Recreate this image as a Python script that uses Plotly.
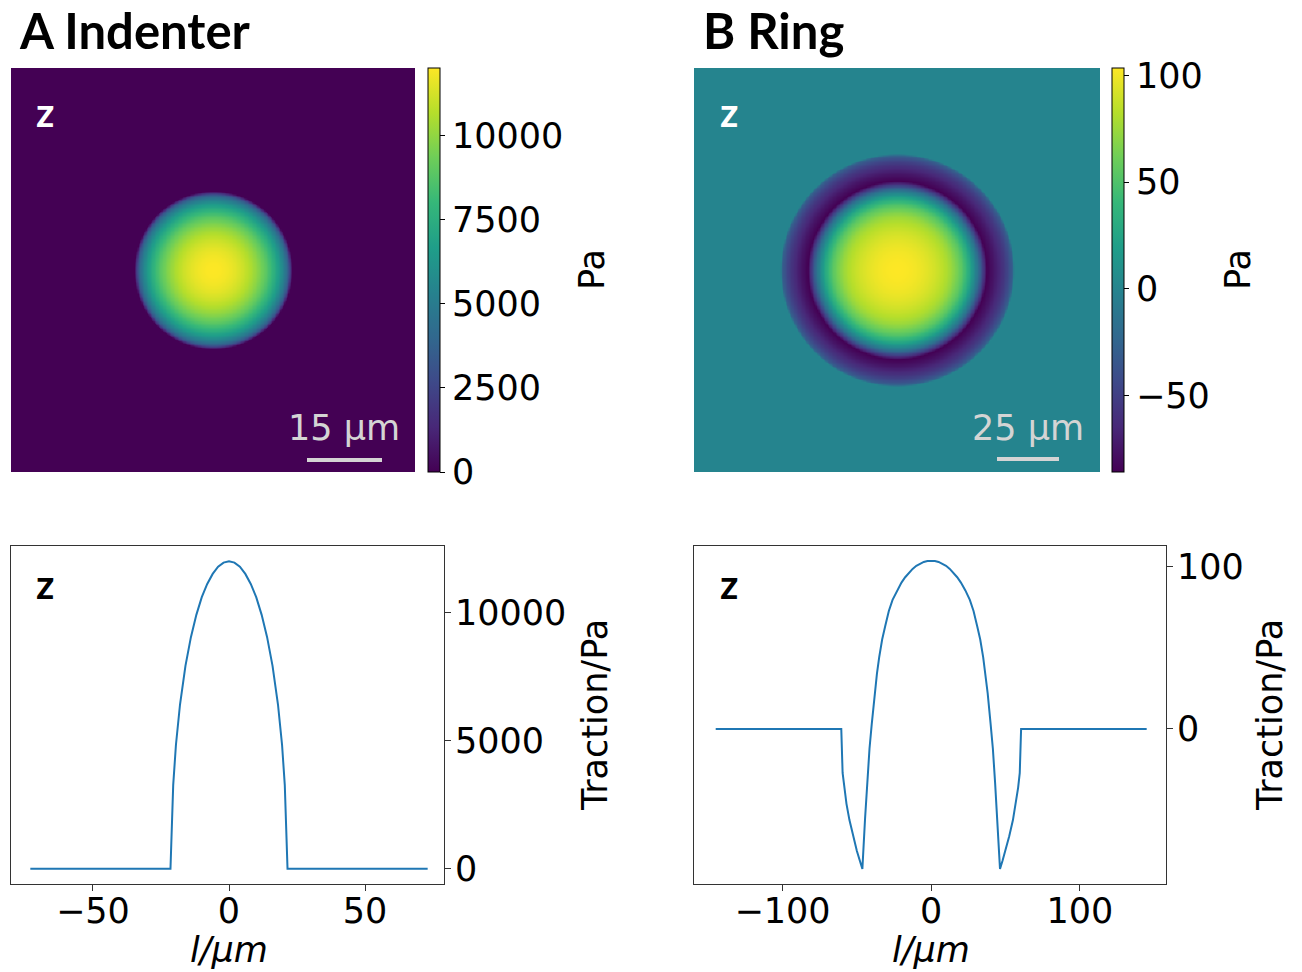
import numpy as np
import plotly.graph_objects as go

W, H = 1302, 972

# ---------------- data ----------------
# Panel A: indenter traction profile along a line through the centre
l_A = [-73, -21.5, -20.5, -19.5, -18, -16, -14, -12, -10, -8, -6, -4, -2, 0,
       2, 4, 6, 8, 10, 12, 14, 16, 18, 19.5, 20.5, 21.5, 73]
t_A = [0, 0, 3260, 4830, 6410, 7920, 9040, 9910, 10600, 11120, 11510, 11790, 11950, 12000,
       11950, 11790, 11510, 11120, 10600, 9910, 9040, 7920, 6410, 4830, 3260, 0, 0]

# Panel B: ring traction profile along a line through the centre
l_B = [-145, -60.5, -59.6, -58.5, -57, -55, -52.5, -50, -48, -46.3, -44.5, -43, -41.5, -40, -38,
       -36.5, -35, -33, -31, -28.5, -26, -23, -20, -17.5, -15, -12.5, -10, -7.5, -5, -2.5, 0,
       2.5, 5, 7.5, 10, 12.5, 15, 17.5, 20, 23, 26, 28.5, 31, 33, 35, 36.5,
       38, 40, 41.5, 43, 44.5, 46.3, 48, 50, 52.5, 55, 57, 58.5, 59.6, 60.5, 145]
t_B = [0, 0, -27, -36, -46, -56, -66, -75, -81, -86, -55, -33, -12, 3, 22,
       34, 44, 55, 63, 72.5, 79.4, 85.2, 90, 93.3, 96.1, 98.4, 100.3, 101.7, 102.7, 103.3, 103.5,
       103.3, 102.7, 101.7, 100.3, 98.4, 96.1, 93.3, 90, 85.2, 79.4, 72.5, 63, 55, 44, 34,
       22, 3, -12, -33, -55, -86, -81, -75, -66, -56, -46, -36, -27, 0, 0]

ticks_cbA = [0, 2500, 5000, 7500, 10000]
ticks_cbB = [-50, 0, 50, 100]
ticks_xA = [-50, 0, 50]
ticks_xB = [-100, 0, 100]
ticks_yA = [0, 5000, 10000]
ticks_yB = [0, 100]

def lab(v):
    return str(v).replace('-', '\u2212')

# heatmaps built from the radial (l >= 0) part of each profile
def radial_map(l, t, half, n=301):
    l = np.asarray(l, float); t = np.asarray(t, float)
    m = l >= 0
    r, v = l[m], t[m]
    xs = np.linspace(-half, half, n)
    X, Y = np.meshgrid(xs, xs)
    R = np.sqrt(X ** 2 + Y ** 2)
    return xs, np.round(np.interp(R, r, v), 1)

xsA, zA = radial_map(l_A, t_A, 54.9)
xsB, zB = radial_map(l_B, t_B, 105.0)

# ---------------- geometry helpers ----------------
def px_x(x0, x1):
    return [x0 / W, x1 / W]

def px_y(y0, y1):
    return [1 - y1 / H, 1 - y0 / H]

TICKFONT = dict(family="DejaVu Sans", size=35, color="black")
BOLD = "Lato"

def cbar(x):
    return dict(x=x / W, xanchor="left", y=1 - 270 / H, yanchor="middle",
                len=404, lenmode="pixels", thickness=12, thicknessmode="pixels",
                xpad=0, ypad=0, outlinewidth=1, outlinecolor="black",
                ticks="outside", ticklen=5, tickcolor="black", tickfont=TICKFONT)

fig = go.Figure()

cbA = cbar(428); cbA.update(tickvals=ticks_cbA, ticktext=[lab(v) for v in ticks_cbA])
cbB = cbar(1112); cbB.update(tickvals=ticks_cbB, ticktext=[lab(v) for v in ticks_cbB])

fig.add_trace(go.Heatmap(
    x=xsA, y=xsA, z=zA, colorscale="Viridis", zmin=0, zmax=max(t_A),
    xaxis="x", yaxis="y", zsmooth="best", hoverinfo="skip", colorbar=cbA))
fig.add_trace(go.Heatmap(
    x=xsB, y=xsB, z=zB, colorscale="Viridis", zmin=min(t_B), zmax=max(t_B),
    xaxis="x2", yaxis="y2", zsmooth="best", hoverinfo="skip", colorbar=cbB))
fig.add_trace(go.Scatter(x=l_A, y=t_A, mode="lines", line=dict(color="#1f77b4", width=2),
                         xaxis="x3", yaxis="y3", hoverinfo="skip", showlegend=False))
fig.add_trace(go.Scatter(x=l_B, y=t_B, mode="lines", line=dict(color="#1f77b4", width=2),
                         xaxis="x4", yaxis="y4", hoverinfo="skip", showlegend=False))

hid = dict(visible=False, showgrid=False, zeroline=False, automargin=False)
frame = dict(showline=True, mirror=True, linecolor="#333333", linewidth=1,
             showgrid=False, zeroline=False, ticks="outside", ticklen=6,
             tickcolor="#333333", tickfont=TICKFONT, automargin=False)

fig.update_layout(
    width=W, height=H, margin=dict(l=0, r=0, t=0, b=0, autoexpand=False),
    paper_bgcolor="white", plot_bgcolor="white", showlegend=False,
    xaxis=dict(domain=px_x(11, 415), range=[xsA[0], xsA[-1]], **hid),
    yaxis=dict(domain=px_y(68, 472), range=[xsA[0], xsA[-1]], **hid),
    xaxis2=dict(domain=px_x(694, 1100), range=[xsB[0], xsB[-1]], **hid),
    yaxis2=dict(domain=px_y(68, 472), range=[xsB[0], xsB[-1]], **hid),
    xaxis3=dict(domain=px_x(11, 444), range=[-80.1, 79], anchor="y3",
                tickvals=ticks_xA, ticktext=[lab(v) for v in ticks_xA],
                ticklabelstandoff=-10, **frame),
    yaxis3=dict(domain=px_y(546, 884), range=[-600, 12600], anchor="x3", side="right",
                tickvals=ticks_yA, ticktext=[lab(v) for v in ticks_yA],
                ticklabelstandoff=-3, **frame),
    xaxis4=dict(domain=px_x(694, 1166), range=[-159.6, 158], anchor="y4",
                tickvals=ticks_xB, ticktext=[lab(v) for v in ticks_xB],
                ticklabelstandoff=-10, **frame),
    yaxis4=dict(domain=px_y(546, 884), range=[-95.3, 112.5], anchor="x4", side="right",
                tickvals=ticks_yB, ticktext=[lab(v) for v in ticks_yB],
                ticklabelstandoff=-3, **frame),
)

ann = []
def text(x, y, s, size=35, family="DejaVu Sans", color="black", angle=0,
         xanchor="center", yanchor="middle"):
    ann.append(dict(x=x / W, y=1 - y / H, xref="paper", yref="paper", text=s,
                    showarrow=False, textangle=angle, xanchor=xanchor, yanchor=yanchor,
                    font=dict(family=family, size=size, color=color)))

text(17, 30, "<b>A Indenter</b>", size=49, family=BOLD, xanchor="left")
text(701, 30, "<b>B Ring</b>", size=49, family=BOLD, xanchor="left")
for (x, y, c) in [(45, 112, "white"), (729, 112, "white"), (45, 584, "black"), (729, 584, "black")]:
    text(x, y, "<b>z</b>", size=40, family=BOLD, color=c)
text(592, 270, "Pa", angle=-90)
text(1238, 270, "Pa", angle=-90)
text(595, 715, "Traction/Pa", angle=-90)
text(1270, 715, "Traction/Pa", angle=-90)
text(229, 950, "<i>l/μm</i>")
text(931, 950, "<i>l/μm</i>")
text(344, 428, "15 μm", size=35, color="#d4d4d4")
text(1028, 428, "25 μm", size=35, color="#d4d4d4")
fig.update_layout(annotations=ann)

shapes = [
    dict(type="line", xref="paper", yref="paper", x0=307 / W, x1=382 / W,
         y0=1 - 460 / H, y1=1 - 460 / H, line=dict(color="#d4d4d4", width=4)),
    dict(type="line", xref="paper", yref="paper", x0=997 / W, x1=1059 / W,
         y0=1 - 459 / H, y1=1 - 459 / H, line=dict(color="#d4d4d4", width=4)),
]
fig.update_layout(shapes=shapes)

fig.write_html("out.html")
